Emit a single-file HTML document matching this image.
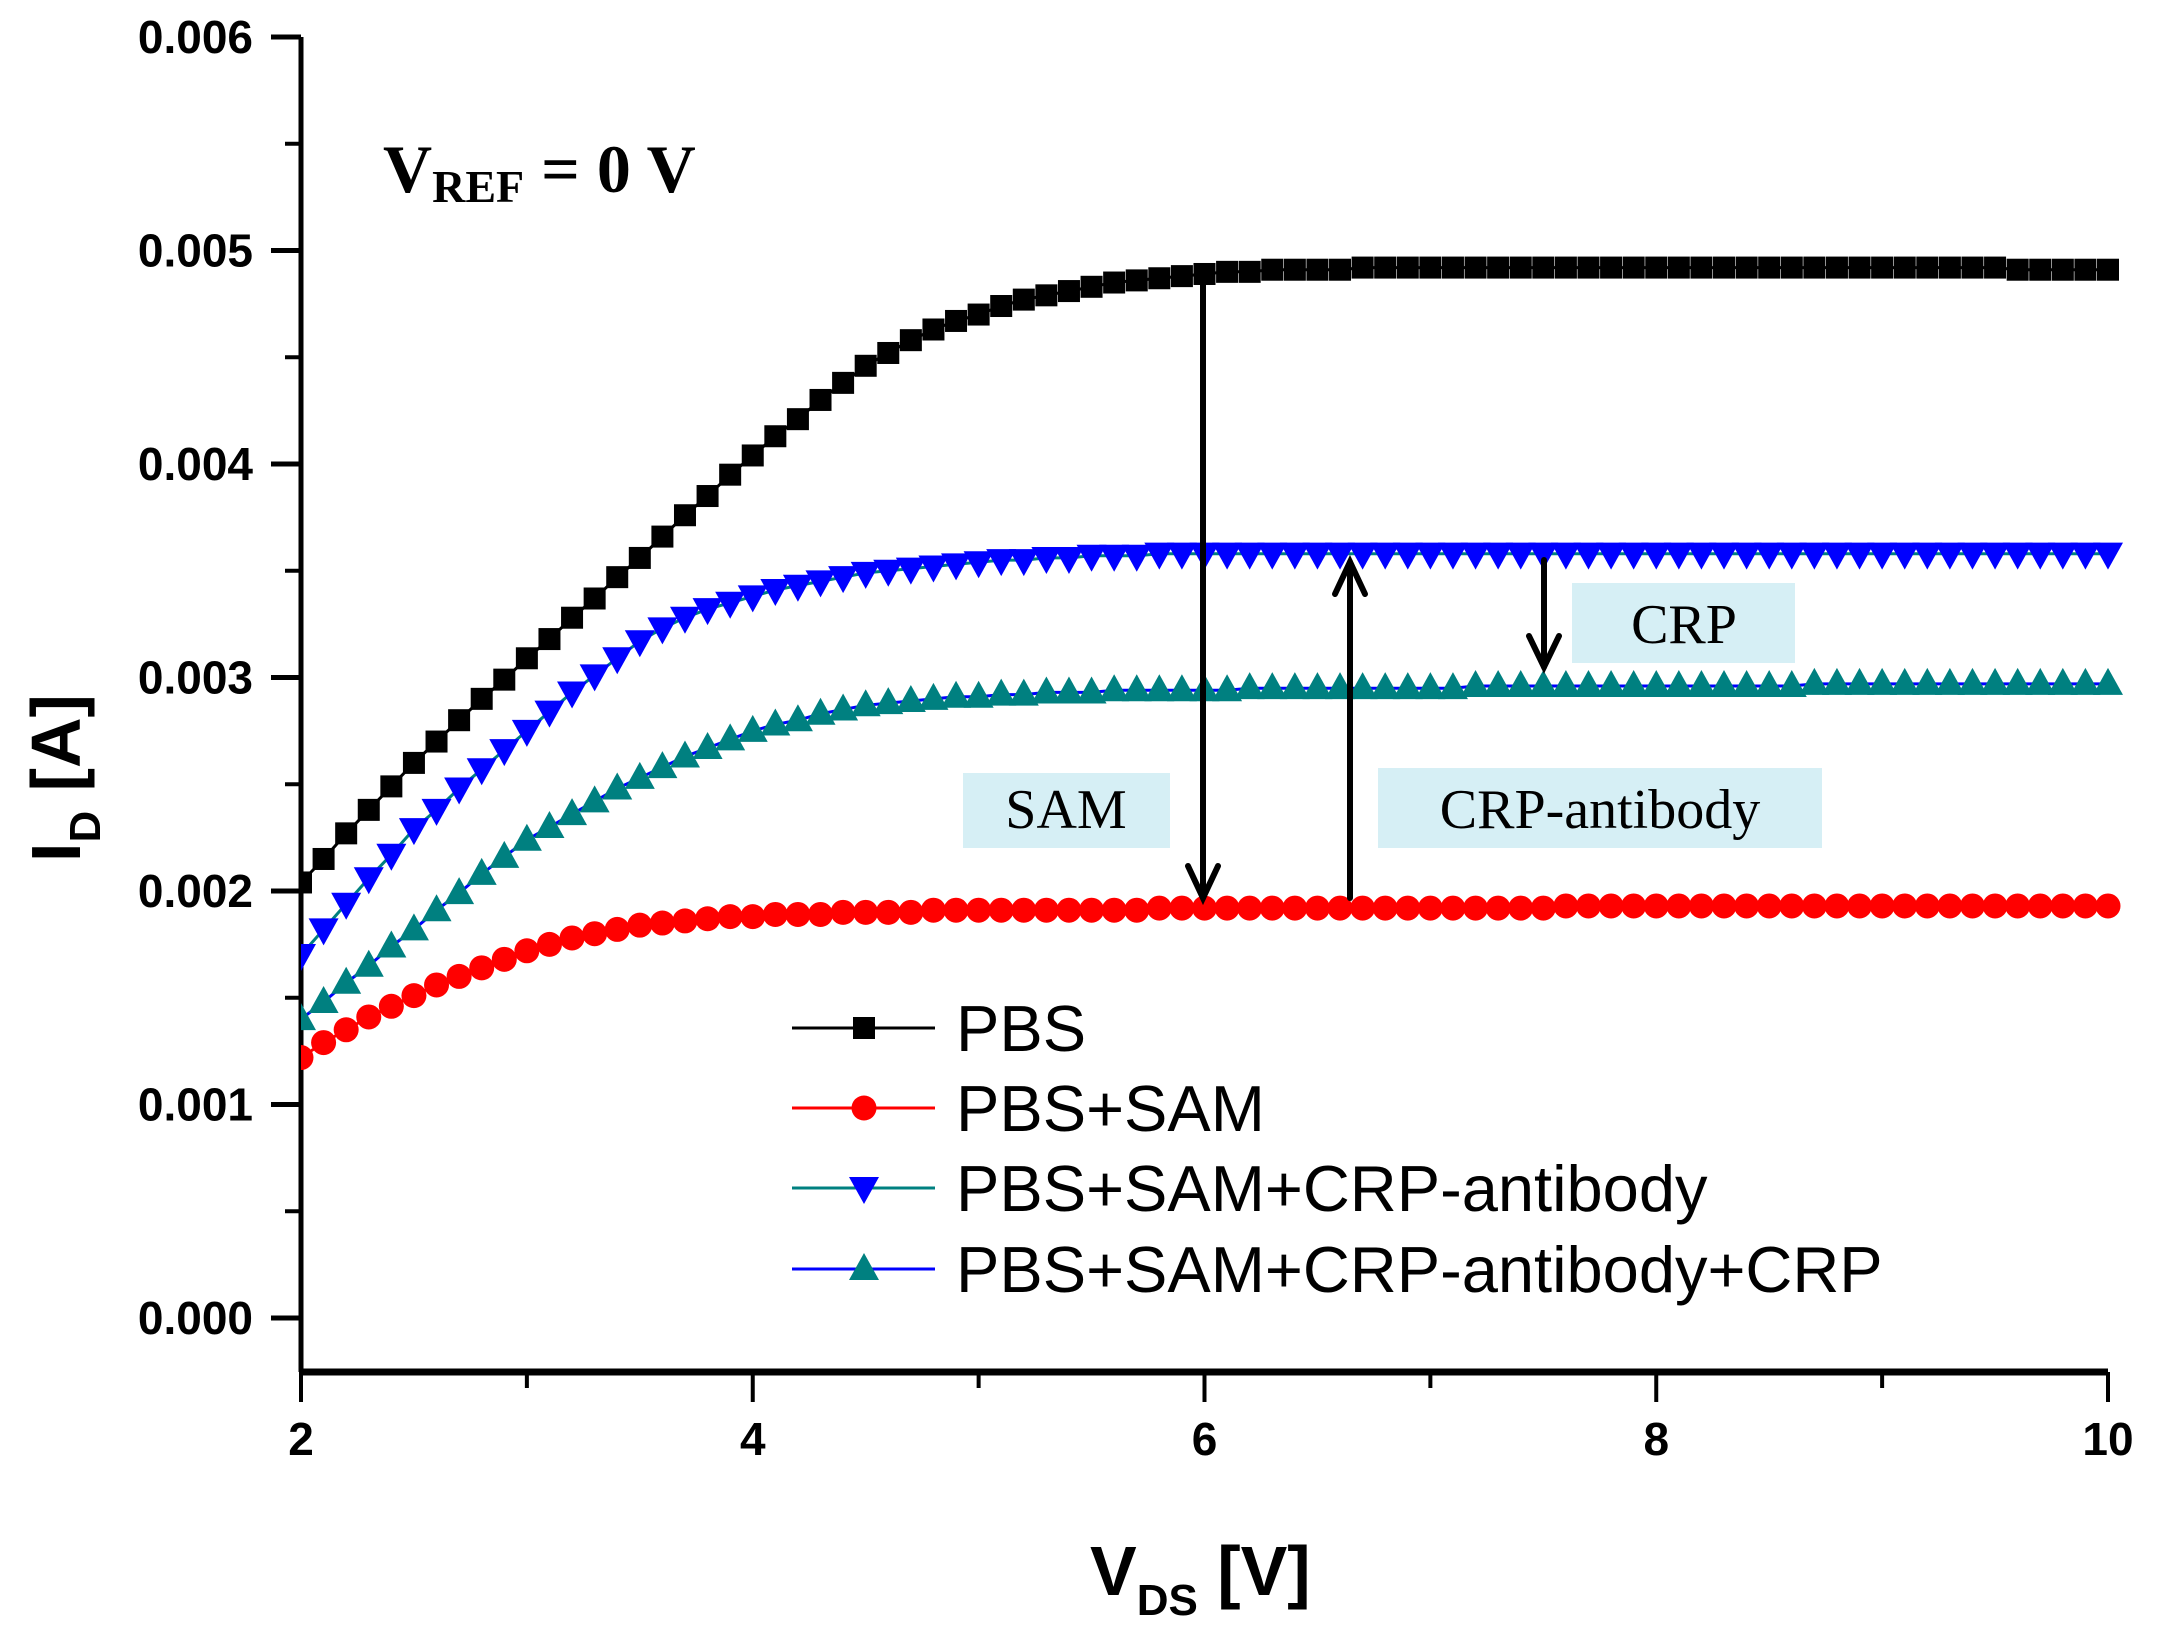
<!DOCTYPE html>
<html><head><meta charset="utf-8"><style>
html,body{margin:0;padding:0;background:#fff;}
svg{display:block;}
.tk{font-family:"Liberation Sans",Arial,sans-serif;font-weight:bold;font-size:46px;}
.tm{font-family:"Liberation Serif","Times New Roman",serif;}
</style></head><body>
<svg id="chart" width="2161" height="1648" viewBox="0 0 2161 1648" xmlns="http://www.w3.org/2000/svg">
<defs><clipPath id="plotclip"><rect x="301" y="0" width="1830" height="1372"/></clipPath></defs>
<g id="axes"></g>
<g id="series" clip-path="url(#plotclip)"></g>
<g id="annot">
  <rect x="963" y="773" width="207" height="75" fill="#d6eff5"/>
  <text class="tm" x="1066" y="828" font-size="56" text-anchor="middle">SAM</text>
  <rect x="1378" y="768" width="444" height="80" fill="#d6eff5"/>
  <text class="tm" x="1600" y="828" font-size="56" text-anchor="middle">CRP-antibody</text>
  <rect x="1572" y="583" width="223" height="80" fill="#d6eff5"/>
  <text class="tm" x="1684" y="643" font-size="56" text-anchor="middle">CRP</text>
  <g stroke="#000" stroke-width="6" fill="none" stroke-linecap="round">
    <line x1="1203" y1="272" x2="1203" y2="898"/>
    <polyline points="1188,866 1203,898 1218,866"/>
    <line x1="1350" y1="898" x2="1350" y2="562"/>
    <polyline points="1335,594 1350,562 1365,594"/>
    <line x1="1544" y1="560" x2="1544" y2="667"/>
    <polyline points="1529,636 1544,667 1559,636"/>
  </g>
  <text class="tm" font-weight="bold" x="383" y="192" font-size="68">V<tspan font-size="46" dy="10">REF</tspan><tspan dy="-10"> = 0 V</tspan></text>
</g>
<g id="legend"></g>
<text font-family="Liberation Sans, Arial, sans-serif" font-weight="bold" font-size="70" x="1090" y="1595">V<tspan font-size="44" dy="20">DS</tspan><tspan dy="-20"> [V]</tspan></text>
<text font-family="Liberation Sans, Arial, sans-serif" font-weight="bold" font-size="70" transform="translate(80,862) rotate(-90)">I<tspan font-size="44" dy="20">D</tspan><tspan dy="-20"> [A]</tspan></text>
</svg>
<script>
const vStart = 2.0, vStep = 0.1;
const pbs = [2.04,2.15,2.27,2.38,2.49,2.60,2.70,2.80,2.90,2.99,3.09,3.18,3.28,3.37,3.47,3.56,3.66,3.76,3.85,3.95,4.04,4.13,4.21,4.30,4.38,4.46,4.52,4.58,4.63,4.67,4.70,4.74,4.77,4.79,4.81,4.83,4.85,4.86,4.87,4.88,4.89,4.90,4.90,4.91,4.91,4.91,4.91,4.92,4.92,4.92,4.92,4.92,4.92,4.92,4.92,4.92,4.92,4.92,4.92,4.92,4.92,4.92,4.92,4.92,4.92,4.92,4.92,4.92,4.92,4.92,4.92,4.92,4.92,4.92,4.92,4.92,4.91,4.91,4.91,4.91,4.91];
const pbsSam = [1.22,1.29,1.35,1.41,1.46,1.51,1.56,1.60,1.64,1.68,1.72,1.75,1.78,1.80,1.82,1.84,1.85,1.86,1.87,1.88,1.88,1.89,1.89,1.89,1.90,1.90,1.90,1.90,1.91,1.91,1.91,1.91,1.91,1.91,1.91,1.91,1.91,1.91,1.92,1.92,1.92,1.92,1.92,1.92,1.92,1.92,1.92,1.92,1.92,1.92,1.92,1.92,1.92,1.92,1.92,1.92,1.93,1.93,1.93,1.93,1.93,1.93,1.93,1.93,1.93,1.93,1.93,1.93,1.93,1.93,1.93,1.93,1.93,1.93,1.93,1.93,1.93,1.93,1.93,1.93,1.93];
const pbsSamAb = [1.70,1.82,1.94,2.06,2.17,2.29,2.38,2.48,2.57,2.66,2.75,2.84,2.93,3.01,3.09,3.17,3.23,3.28,3.32,3.35,3.38,3.41,3.43,3.45,3.47,3.49,3.50,3.51,3.52,3.53,3.54,3.55,3.55,3.56,3.56,3.57,3.57,3.57,3.58,3.58,3.58,3.58,3.58,3.58,3.58,3.58,3.58,3.58,3.58,3.58,3.58,3.58,3.58,3.58,3.58,3.58,3.58,3.58,3.58,3.58,3.58,3.58,3.58,3.58,3.58,3.58,3.58,3.58,3.58,3.58,3.58,3.58,3.58,3.58,3.58,3.58,3.58,3.58,3.58,3.58,3.58];
const pbsSamAbCrp = [1.40,1.48,1.57,1.65,1.74,1.82,1.91,1.99,2.08,2.16,2.24,2.30,2.36,2.42,2.48,2.53,2.58,2.63,2.67,2.71,2.75,2.78,2.80,2.83,2.85,2.87,2.88,2.89,2.90,2.91,2.91,2.92,2.92,2.93,2.93,2.93,2.94,2.94,2.94,2.94,2.94,2.94,2.95,2.95,2.95,2.95,2.95,2.95,2.95,2.95,2.95,2.95,2.96,2.96,2.96,2.96,2.96,2.96,2.96,2.96,2.96,2.96,2.96,2.96,2.96,2.96,2.96,2.97,2.97,2.97,2.97,2.97,2.97,2.97,2.97,2.97,2.97,2.97,2.97,2.97,2.97];
const xTicks = [2,4,6,8,10];
const xTickLabels = ["2","4","6","8","10"];
const yTicks = [0,1,2,3,4,5,6];
const yTickLabels = ["0.000","0.001","0.002","0.003","0.004","0.005","0.006"];
const legendLabels = ["PBS","PBS+SAM","PBS+SAM+CRP-antibody","PBS+SAM+CRP-antibody+CRP"];

const NS="http://www.w3.org/2000/svg";
const X0=301,X1=2108,Y0=1318,YTOP=37,AXY=1372;
const xs=v=>X0+(v-2)*(X1-X0)/8;
const ys=m=>Y0-m*(Y0-YTOP)/6;
function mk(tag,attrs,parent){const e=document.createElementNS(NS,tag);for(const k in attrs)e.setAttribute(k,attrs[k]);parent.appendChild(e);return e;}

const ax=document.getElementById('axes');
let e;
e=mk('line',{x1:X0,y1:YTOP,x2:X0,y2:AXY,stroke:'#000','stroke-width':5},ax);


e=mk('line',{x1:X0-2,y1:AXY,x2:X1,y2:AXY,stroke:'#000','stroke-width':7},ax);


yTicks.forEach((t,i)=>{
  const y=ys(t);
  let l=mk('line',{x1:X0-30,y1:y,x2:X0,y2:y,stroke:'#000','stroke-width':5},ax);
  
  
  if(i<yTicks.length-1){
    let m=mk('line',{x1:X0-16,y1:ys(t+0.5),x2:X0,y2:ys(t+0.5),stroke:'#000','stroke-width':4},ax);
    
    
  }
  let tx=mk('text',{x:253,y:y+16,'text-anchor':'end',class:'tk'},ax);
  tx.textContent=yTickLabels[i];
  
  
});
xTicks.forEach((t,i)=>{
  const x=xs(t);
  let l=mk('line',{x1:x,y1:AXY,x2:x,y2:AXY+30,stroke:'#000','stroke-width':4},ax);
  
  
  if(i<xTicks.length-1){
    let m=mk('line',{x1:xs(t+1),y1:AXY,x2:xs(t+1),y2:AXY+16,stroke:'#000','stroke-width':4},ax);
    
    
  }
  let tx=mk('text',{x:x,y:1455,'text-anchor':'middle',class:'tk'},ax);
  tx.textContent=xTickLabels[i];
  
  
});

function marker(kind,cx,cy,fill,parent){
  let m;
  if(kind==='square') m=mk('rect',{x:cx-11,y:cy-11,width:22,height:22,fill:fill},parent);
  else if(kind==='circle') m=mk('circle',{cx:cx,cy:cy,r:12.5,fill:fill},parent);
  else if(kind==='down') m=mk('polygon',{points:`${cx-15},${cy-11} ${cx+15},${cy-11} ${cx},${cy+16}`,fill:fill},parent);
  else m=mk('polygon',{points:`${cx-15},${cy+11} ${cx+15},${cy+11} ${cx},${cy-16}`,fill:fill},parent);
  return m;
}
const sg=document.getElementById('series');
const defs=[
  {d:pbs,line:'#000',mark:'#000',k:'square',n:'pbs'},
  {d:pbsSam,line:'#ff0000',mark:'#ff0000',k:'circle',n:'pbs-sam'},
  {d:pbsSamAb,line:'#008080',mark:'#0000ff',k:'down',n:'pbs-sam-antibody'},
  {d:pbsSamAbCrp,line:'#0000ff',mark:'#008080',k:'up',n:'pbs-sam-antibody-crp'}
];
defs.forEach(s=>{
  const g=mk('g',{},sg);
  
  
  const pts=s.d.map((v,i)=>xs(vStart+i*vStep).toFixed(1)+','+ys(v).toFixed(1)).join(' ');
  const pl=mk('polyline',{points:pts,fill:'none',stroke:s.line,'stroke-width':3},g);
  
  
  s.d.forEach((v,i)=>{
    const m=marker(s.k,xs(vStart+i*vStep),ys(v),s.mark,g);
    
    
  });
});

const lg=document.getElementById('legend');
const rowY=[1028,1108,1188,1269];
defs.forEach((s,i)=>{
  const g=mk('g',{},lg);
  
  
  mk('line',{x1:792,y1:rowY[i],x2:935,y2:rowY[i],stroke:s.line,'stroke-width':3},g);
  marker(s.k,864,rowY[i],s.mark,g);
  const t=mk('text',{x:956,y:rowY[i]+23,'font-family':'Liberation Sans, Arial, sans-serif','font-size':65},g);
  t.textContent=legendLabels[i];
});
</script>
</body></html>
